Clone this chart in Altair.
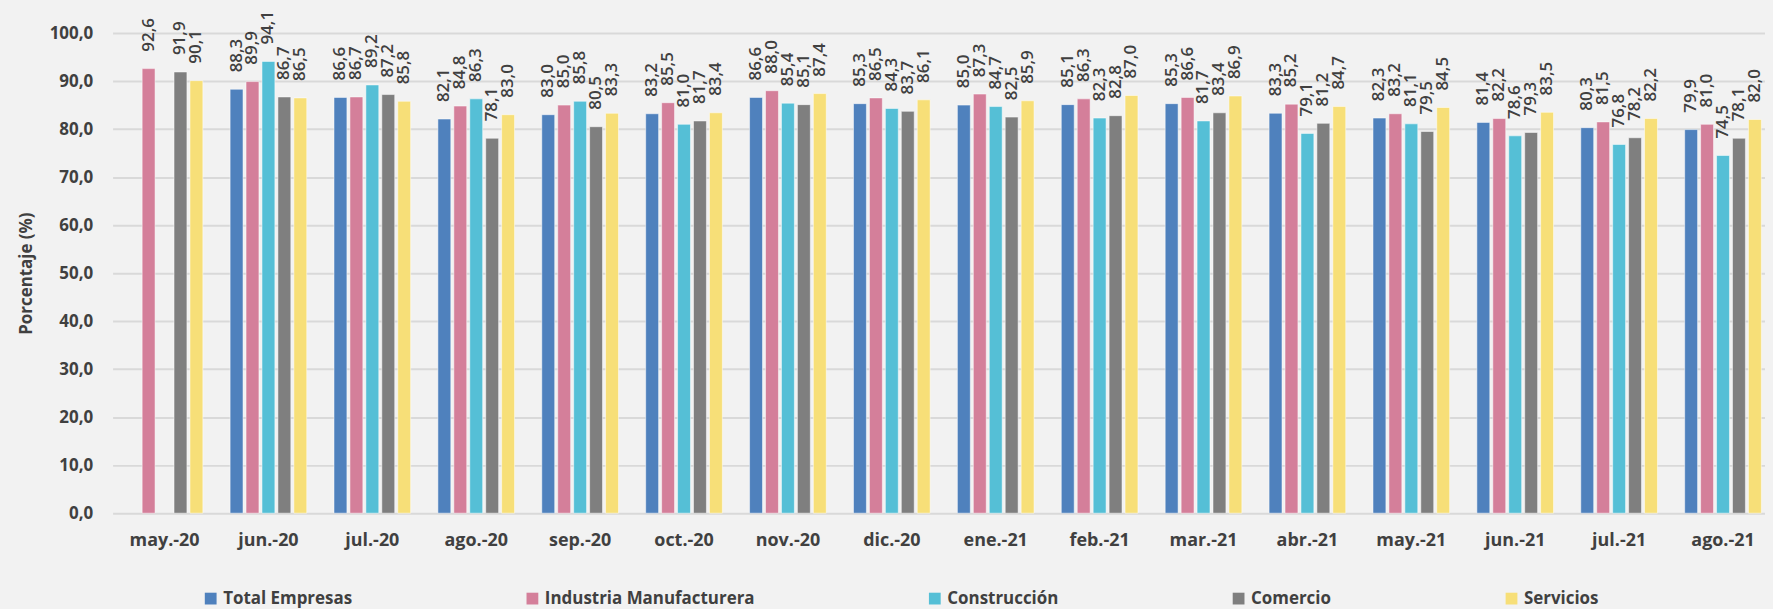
import altair as alt
import pandas as pd

months = ["may.-20", "jun.-20", "jul.-20", "ago.-20", "sep.-20", "oct.-20", "nov.-20", "dic.-20",
          "ene.-21", "feb.-21", "mar.-21", "abr.-21", "may.-21", "jun.-21", "jul.-21", "ago.-21"]
series = ["Total Empresas", "Industria Manufacturera", "Construcción", "Comercio", "Servicios"]
colors = ["#4F81BD", "#D47F9A", "#55BFD6", "#7F7F7F", "#F7DF78"]

total = [None, 88.3, 86.6, 82.1, 83.0, 83.2, 86.6, 85.3, 85.0, 85.1, 85.3, 83.3, 82.3, 81.4, 80.3, 79.9]
industria = [92.6, 89.9, 86.7, 84.8, 85.0, 85.5, 88.0, 86.5, 87.3, 86.3, 86.6, 85.2, 83.2, 82.2, 81.5, 81.0]
construccion = [None, 94.1, 89.2, 86.3, 85.8, 81.0, 85.4, 84.3, 84.7, 82.3, 81.7, 79.1, 81.1, 78.6, 76.8, 74.5]
comercio = [91.9, 86.7, 87.2, 78.1, 80.5, 81.7, 85.1, 83.7, 82.5, 82.8, 83.4, 81.2, 79.5, 79.3, 78.2, 78.1]
servicios = [90.1, 86.5, 85.8, 83.0, 83.3, 83.4, 87.4, 86.1, 85.9, 87.0, 86.9, 84.7, 84.5, 83.5, 82.2, 82.0]

rows = []
for s, vals in zip(series, [total, industria, construccion, comercio, servicios]):
    for m, v in zip(months, vals):
        if v is not None:
            rows.append({"mes": m, "serie": s, "valor": v})
df = pd.DataFrame(rows)

FONT = "Open Sans"
TXT = "#404040"
BG = "#F2F2F2"

base = alt.Chart(df).transform_calculate(
    label="replace(format(datum.valor, '.1f'), '.', ',')"
).encode(
    x=alt.X("mes:N", sort=months, title=None,
            scale=alt.Scale(range=[0, 1669], paddingInner=0.233, paddingOuter=0.1165),
            axis=alt.Axis(labelAngle=0, labelFont=FONT, labelFontSize=18, labelFontWeight="bold",
                          labelColor=TXT, labelPadding=18, ticks=False, domain=False, grid=False)),
    xOffset=alt.XOffset("serie:N", sort=series,
                        scale=alt.Scale(paddingInner=0.19, paddingOuter=0.095)),
    y=alt.Y("valor:Q", scale=alt.Scale(domain=[0, 100], nice=False),
            axis=alt.Axis(title="Porcentaje (%)", values=list(range(0, 101, 10)),
                          labelExpr="replace(format(datum.value, '.1f'), '.', ',')",
                          labelFont=FONT, labelFontSize=17, labelFontWeight="bold", labelColor=TXT,
                          labelPadding=20, ticks=False, domain=False,
                          gridColor="#D9D9D9", gridWidth=2,
                          titleFont=FONT, titleFontSize=17, titleFontWeight="bold", titleColor=TXT,
                          titlePadding=14)),
)

bars = base.mark_bar(stroke="white", strokeWidth=1, strokeOpacity=0.5).encode(
    color=alt.Color("serie:N", sort=series,
                    scale=alt.Scale(domain=series, range=colors),
                    legend=alt.Legend(title=None, orient="none", direction="horizontal",
                                      legendX=90, legendY=559, symbolType="square", symbolSize=140,
                                      symbolStrokeWidth=0, labelFont=FONT, labelFontSize=17,
                                      labelFontWeight="bold", labelColor=TXT, labelOffset=4,
                                      columnPadding=172, labelLimit=400))
)

labels = base.mark_text(angle=270, align="left", baseline="middle", dx=17,
                        font=FONT, fontSize=17, fontWeight=600, color=TXT).encode(
    text="label:N"
)

chart = alt.layer(bars, labels).properties(
    width=1659, height=482,
    autosize=alt.AutoSizeParams(type="none"),
    padding={"left": 105, "top": 24, "right": 0, "bottom": 95},
    background=BG,
).configure_view(stroke=None)

# give the page body the same grey as the chart background
try:
    from altair.utils.html import TEMPLATES as _T
    _std = _T["standard"]
    _orig_render = _std.render

    def _render(*a, **k):
        html = _orig_render(*a, **k)
        return html.replace("<style>", "<style>\n    body { background: %s; }" % BG, 1)

    _std.render = _render
except Exception:
    pass

chart.save("out.html", embed_options={"renderer": "svg", "actions": False})
